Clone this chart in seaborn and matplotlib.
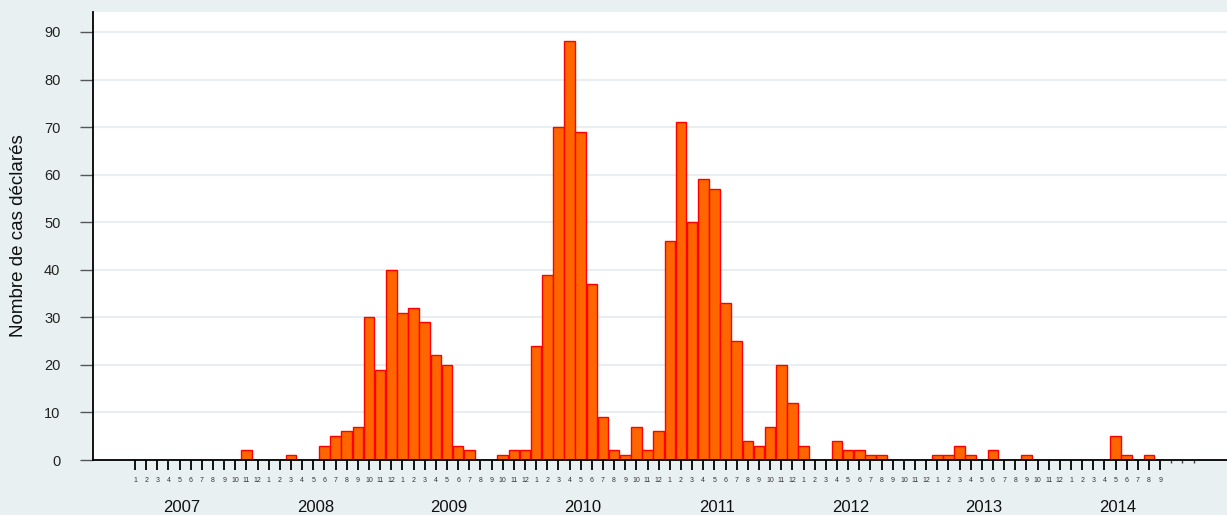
"""
Monthly declared cases, 2007-2014, as an orange bar chart.
"""

import matplotlib
matplotlib.use("Agg")
import matplotlib.pyplot as plt
import matplotlib.transforms as mtransforms
import numpy as np
import pandas as pd
import seaborn as sns

years = [2007, 2008, 2009, 2010, 2011, 2012, 2013, 2014]
cases_2007 = [0, 0, 0, 0, 0, 0, 0, 0, 0, 0, 2, 0]
cases_2008 = [0, 0, 1, 0, 0, 3, 5, 6, 7, 30, 19, 40]
cases_2009 = [31, 32, 29, 22, 20, 3, 2, 0, 0, 1, 2, 2]
cases_2010 = [24, 39, 70, 88, 69, 37, 9, 2, 1, 7, 2, 6]
cases_2011 = [46, 71, 50, 59, 57, 33, 25, 4, 3, 7, 20, 12]
cases_2012 = [3, 0, 0, 4, 2, 2, 1, 1, 0, 0, 0, 0]
cases_2013 = [1, 1, 3, 1, 0, 2, 0, 0, 1, 0, 0, 0]
cases_2014 = [0, 0, 0, 0, 5, 1, 0, 1, 0]
yticks = [0, 10, 20, 30, 40, 50, 60, 70, 80, 90]

BG = "#e9f0f2"
BAR = "#ff6600"
EDGE = "#ff0000"

counts = (cases_2007 + cases_2008 + cases_2009 + cases_2010
          + cases_2011 + cases_2012 + cases_2013 + cases_2014)
month_labels = [str(m) for y in years[:-1] for m in range(1, 13)]
month_labels += [str(m) for m in range(1, len(cases_2014) + 1)]
df = pd.DataFrame({"idx": np.arange(len(counts)), "cases": counts})

sns.set_theme(style="white")
plt.rcParams["font.family"] = ["Liberation Sans", "DejaVu Sans"]

fig = plt.figure(figsize=(12.27, 5.15), dpi=100, facecolor=BG)
ax = fig.add_axes([93 / 1227, 55 / 515, 1 - 93 / 1227, 448 / 515])
ax.set_facecolor("white")

sns.barplot(data=df, x="idx", y="cases", native_scale=True, width=0.94,
            color=BAR, saturation=1, edgecolor=EDGE, linewidth=1, ax=ax)

ax.set_xlim(-3.77, 98.0)
ax.set_ylim(0, 94.2)

ax.set_yticks(yticks)
ax.set_yticklabels([str(v) for v in yticks], fontsize=10.5, color="#222222")
ax.yaxis.grid(True, color="#e8eef1", linewidth=1.5)
ax.set_axisbelow(True)

ax.set_xticks(range(len(counts)))
ax.set_xticklabels(month_labels, fontsize=5, color="#333333")
ax.set_xticks([93, 94, 95], minor=True)
ax.tick_params(axis="x", which="major", length=7, width=1.3, color="black",
               pad=5, bottom=True)
ax.tick_params(axis="x", which="minor", length=2.5, width=1, color="#444444",
               bottom=True)
ax.tick_params(axis="y", length=9.5, width=1, color="#555555", pad=14, left=True)

for side in ["top", "right"]:
    ax.spines[side].set_visible(False)
for side in ["left", "bottom"]:
    ax.spines[side].set_color("black")
    ax.spines[side].set_linewidth(1.3)

ax.set_xlabel("")
ax.set_ylabel("Nombre de cas déclarés", fontsize=13.5, labelpad=12,
              color="#111111")

trans = mtransforms.blended_transform_factory(ax.transData, ax.transAxes)
for i, year in enumerate(years):
    ax.text(12 * i + 4.2, -0.107, str(year), transform=trans,
            ha="center", va="center", fontsize=12, color="#111111")

fig.savefig("out.png", dpi=100, facecolor=BG)
